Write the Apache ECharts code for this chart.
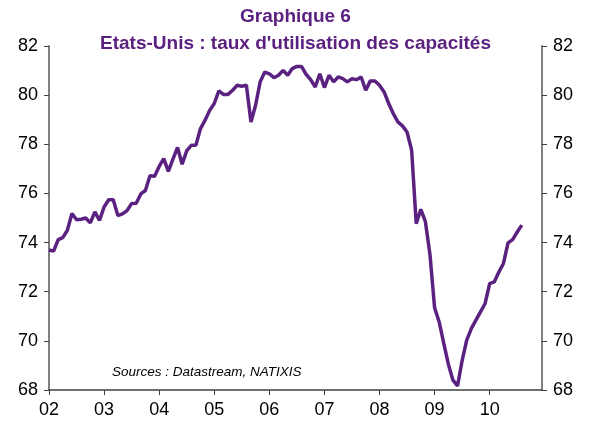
<!DOCTYPE html>
<html>
<head>
<meta charset="utf-8">
<script src="https://cdn.jsdelivr.net/npm/echarts@6/dist/echarts.min.js"></script>
<style>
html,body{margin:0;padding:0;background:#fff;}
#chart{width:591px;height:427px;}
</style>
</head>
<body>
<div id="chart"></div>
<script>
// taux d'utilisation des capacites, mensuel, a partir de janvier 2002
var startYear = 2002;
var v2002 = [73.7, 73.65, 74.12, 74.2, 74.5, 75.18, 74.93, 74.95, 75.0, 74.8, 75.25, 74.9];
var v2003 = [75.45, 75.74, 75.74, 75.1, 75.17, 75.3, 75.59, 75.6, 75.98, 76.12, 76.72, 76.7];
var v2004 = [77.1, 77.42, 76.9, 77.4, 77.87, 77.19, 77.73, 77.96, 77.96, 78.64, 78.98, 79.38];
var v2005 = [79.66, 80.17, 80.03, 80.03, 80.2, 80.4, 80.36, 80.4, 78.91, 79.59, 80.54, 80.94];
var v2006 = [80.87, 80.71, 80.81, 81.01, 80.81, 81.08, 81.17, 81.17, 80.85, 80.63, 80.33, 80.87];
var v2007 = [80.31, 80.81, 80.54, 80.74, 80.67, 80.54, 80.67, 80.63, 80.74, 80.2, 80.58, 80.58];
var v2008 = [80.4, 80.13, 79.66, 79.25, 78.91, 78.75, 78.5, 77.76, 74.77, 75.35, 74.85, 73.5];
var v2009 = [71.35, 70.77, 69.9, 69.05, 68.4, 68.17, 69.2, 70.03, 70.5, 70.84, 71.18, 71.52];
var v2010 = [72.33, 72.4, 72.8, 73.15, 73.99, 74.12, 74.43, 74.71];
var yTicks = [68, 70, 72, 74, 76, 78, 80, 82];

var years = [v2002, v2003, v2004, v2005, v2006, v2007, v2008, v2009, v2010];
var data = [];
years.forEach(function(arr, y){
    arr.forEach(function(v, m){
        data.push([startYear + y + m / 12, v]);
    });
});

var purple = '#5b2180';
var myChart = echarts.init(document.getElementById('chart'));
var yAxisBase = {
    type: 'value',
    min: yTicks[0],
    max: yTicks[yTicks.length - 1],
    interval: 2,
    splitLine: {show: false},
    axisLine: {show: true, lineStyle: {color: '#808080', width: 2}},
    axisTick: {show: true, length: 5, lineStyle: {color: '#404040', width: 1}},
    axisLabel: {color: '#000', fontSize: 18, fontFamily: 'Liberation Sans', margin: 11}
};
var option = {
    animation: false,
    backgroundColor: '#fff',
    title: {
        text: 'Graphique 6\nEtats-Unis : taux d\'utilisation des capacités',
        left: 'center',
        top: -2,
        textStyle: {
            color: purple,
            fontSize: 19,
            fontWeight: 'bold',
            fontFamily: 'Liberation Sans',
            lineHeight: 27
        }
    },
    grid: {left: 49, right: 49, top: 46, bottom: 37},
    xAxis: {
        type: 'value',
        min: 2002,
        max: 2010.95,
        interval: 1,
        splitLine: {show: false},
        axisLine: {show: true, lineStyle: {color: '#404040', width: 1.5}},
        axisTick: {show: true, length: 5, lineStyle: {color: '#404040', width: 1}},
        axisLabel: {
            color: '#000', fontSize: 18, fontFamily: 'Liberation Sans', margin: 11,
            showMaxLabel: false,
            formatter: function(v){
                if (Math.abs(v - Math.round(v)) > 0.001) return '';
                return String(Math.round(v) % 100).padStart(2, '0');
            }
        }
    },
    yAxis: [
        Object.assign({}, yAxisBase, {position: 'left'}),
        Object.assign({}, yAxisBase, {position: 'right'})
    ],
    graphic: [{
        type: 'text',
        left: 112,
        top: 365,
        style: {
            text: 'Sources : Datastream, NATIXIS',
            fill: '#000',
            font: 'italic 13.5px "Liberation Sans"'
        }
    }],
    series: [{
        type: 'line',
        data: data,
        yAxisIndex: 0,
        showSymbol: false,
        lineStyle: {color: purple, width: 3.5},
        itemStyle: {color: purple}
    }]
};
myChart.setOption(option);
</script>
</body>
</html>
